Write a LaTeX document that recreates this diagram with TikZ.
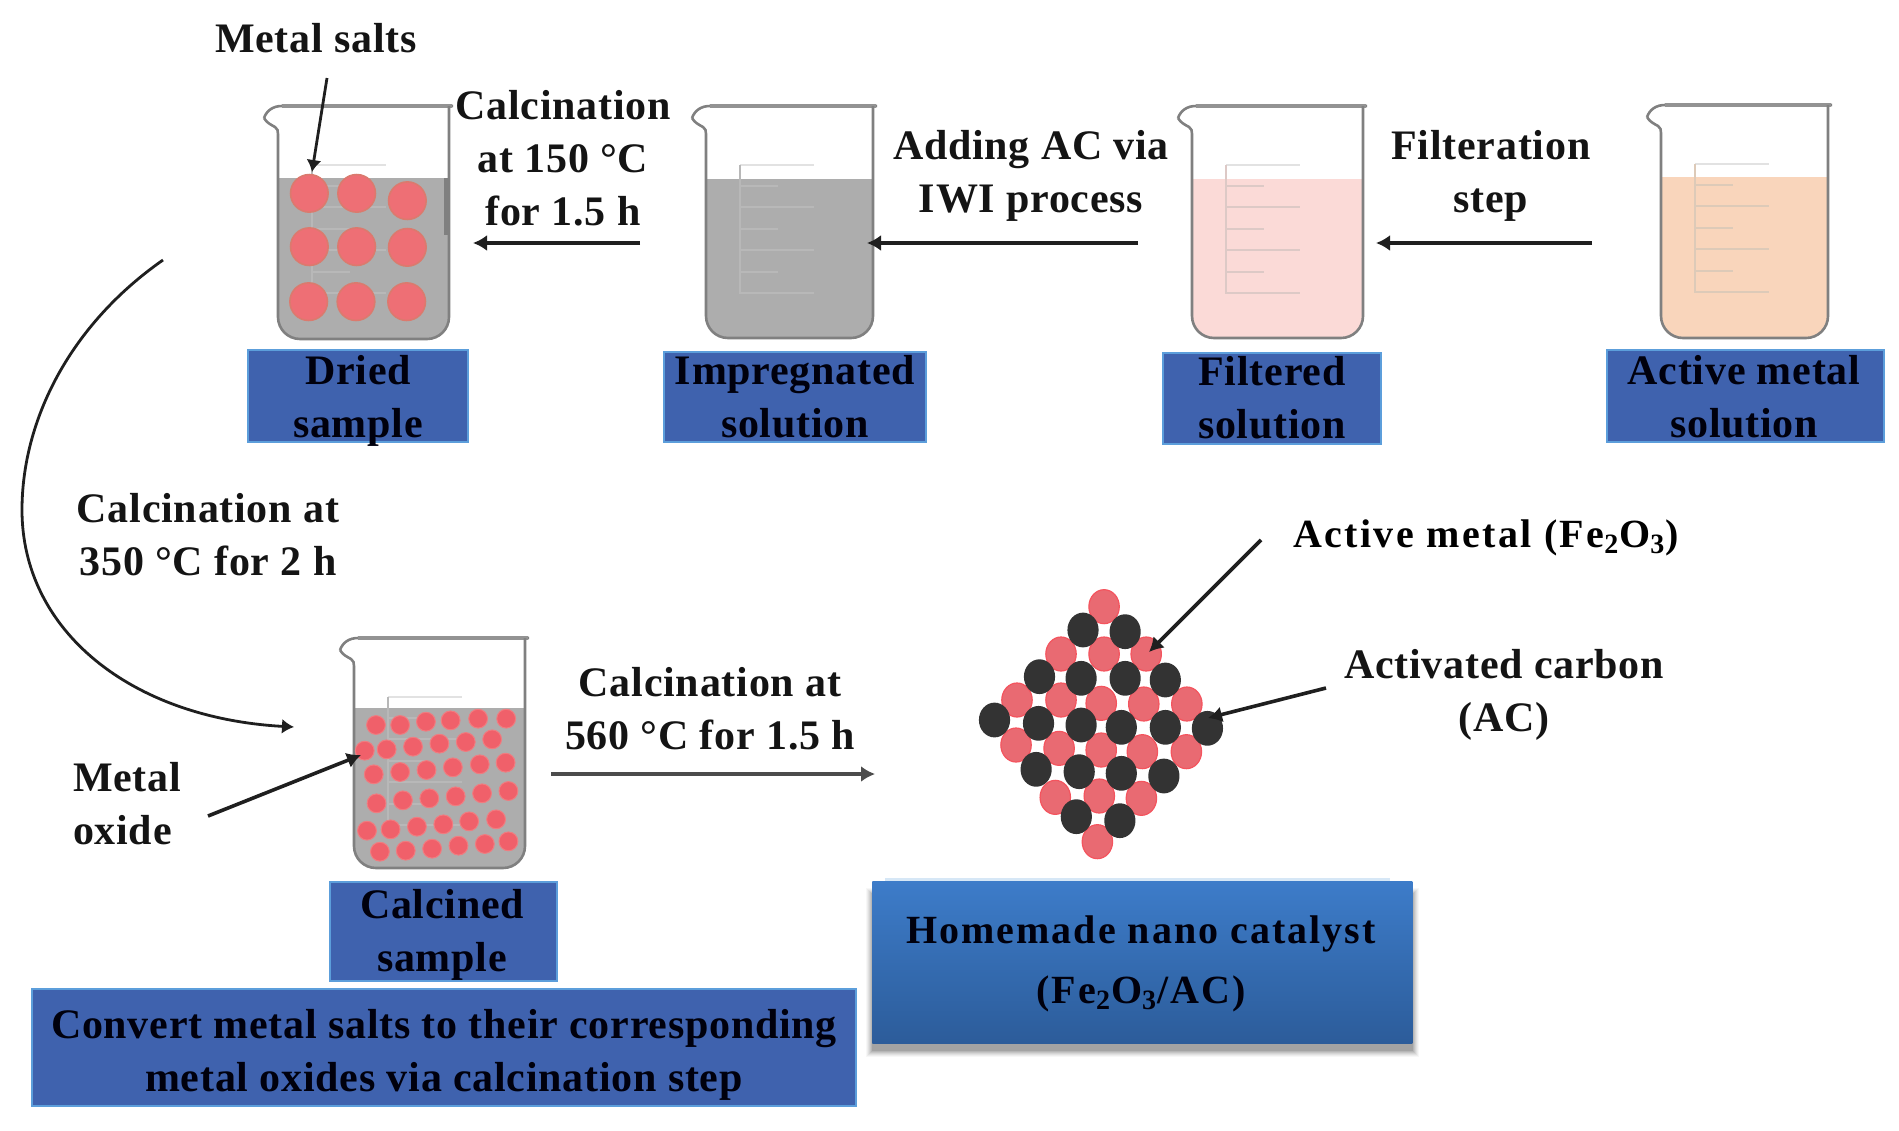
\documentclass[tikz,border=0pt]{standalone}
\usepackage{fontspec}
\setmainfont{Liberation Serif}
\usetikzlibrary{arrows.meta}
\definecolor{boxblue}{HTML}{3F62AE}
\definecolor{boxedge}{HTML}{5C9EDB}
\definecolor{hometop}{HTML}{3D7CC9}
\definecolor{homebot}{HTML}{2C5C9A}
\definecolor{salt}{HTML}{EE6F75}
\definecolor{saltedge}{HTML}{DB7A6E}
\definecolor{oxide}{HTML}{F0606A}
\definecolor{oxideedge}{HTML}{F07C80}
\definecolor{liquid}{HTML}{ADADAD}
\definecolor{pinkliq}{HTML}{FBDAD7}
\definecolor{orangeliq}{HTML}{F9D5BB}
\definecolor{glass}{HTML}{808080}
\definecolor{coal}{HTML}{333333}
\definecolor{redball}{HTML}{E96A72}
\definecolor{redrim}{HTML}{F4545E}
\definecolor{marktop}{HTML}{E2E2E2}
\definecolor{markgray}{HTML}{B8B8B8}
\definecolor{markpink}{HTML}{DDC9C6}
\definecolor{markorange}{HTML}{DDCAB8}
\tikzset{
  txt/.style={font=\bfseries\fontsize{21}{26.5}\addfontfeature{LetterSpace=1.8}\selectfont,align=center,text=black!92,inner sep=0pt},
  lab/.style={txt,text=black!95!blue},
  panel/.style={draw=boxedge,line width=1.2pt,fill=boxblue},
  arr/.style={line width=1.8pt,draw=black!88,-{Latex[length=7pt,width=8pt]}},
  thin arr/.style={line width=1.4pt,draw=black!88,-{Latex[length=6pt,width=7.5pt]}},
  gradmark/.style={line width=1.2pt}
}
% left right top bottom water liquid mark
\newcommand{\mybeaker}[7]{%
  \fill[#6] (#1,#5) -- (#2,#5) -- (#2,#4-22) to[out=-90,in=0] (#2-22,#4) -- (#1+22,#4) to[out=180,in=-90] (#1,#4-22) -- cycle;
  \draw[marktop,gradmark] (#1+34,#3+59) -- (#1+108,#3+59);
  \draw[#7,gradmark] (#1+34,#3+59) -- (#1+34,#3+187) -- (#1+108,#3+187);
  \foreach \d/\l in {80/38,101/74,123/38,144/74,166/38}{
    \draw[#7,gradmark] (#1+34,#3+\d) -- (#1+34+\l,#3+\d);}
  \draw[glass,line width=1.3pt] (#1-14,#3+12) to[out=70,in=180] (#1+4,#3) -- (#2+4,#3);
  \draw[glass!85!white,line width=2.4pt,line join=round] (#1+4,#3) -- (#2+3,#3);
  \draw[glass,line width=1.3pt] (#1-14,#3+12) to[out=-60,in=150] (#1-3,#3+21) to[out=-30,in=90] (#1,#3+28)
    -- (#1,#4-22) to[out=-90,in=180] (#1+22,#4) -- (#2-22,#4) to[out=0,in=-90] (#2,#4-22) -- (#2,#3);
}
\begin{document}
\begin{tikzpicture}[x=0.5pt,y=-0.5pt]
\useasboundingbox (0,0) rectangle (1899,1130);

% beakers
\mybeaker{278}{449}{106}{339}{178}{liquid}{markgray}
\mybeaker{706}{873}{106}{338}{179}{liquid}{markgray}
\mybeaker{1192}{1363}{106}{338}{179}{pinkliq}{markpink}
\mybeaker{1661}{1828}{105}{338}{177}{orangeliq}{markorange}
\mybeaker{354}{525}{638}{868}{708}{liquid}{markgray}
\draw[glass,line width=2.5pt] (446,178) -- (446,235);

% dried-sample salt particles
\foreach \X/\Y in {328/580,470/580,622/602,328/740,470/740,622/742,326/905,468/905,620/905}
  \draw[fill=salt,draw=saltedge,line width=0.8pt] ({200+\X/3},{\Y/3}) circle[radius=9.4pt];

% calcined-sample oxide particles
\foreach \X/\Y in {670/315,713/315,759/305,803/301,852/296,902/296,
  650/392,689/388,736/380,783/371,830/366,877/358,
  666/463,713/456,760/450,807/442,855/433,901/428,
  671/550,718/541,765/535,812/529,859/520,906/513,
  654/632,696/628,743/620,790/613,836/604,884/598,
  677/695,723/692,770/686,817/677,864/672,906/664}
  \draw[fill=oxide,draw=oxideedge,line width=0.5pt] ({\X/1.782},{620+\Y/3}) circle[radius=4.7pt];

% catalyst lattice
\foreach \X/\Y in {322/320,232/462,322/462,410/462,140/600,232/600,316/610,405/612,495/612,
  138/735,228/745,316/750,402/755,494/755,220/892,312/888,400/895,308/1025}
  \draw[fill=redball,draw=redrim,line width=0.6pt] ({950+\X/2.09},{500+\Y/3}) ellipse[x radius=7.6pt,y radius=8.5pt];
\foreach \X/\Y in {278/390,366/395,187/530,274/535,366/535,450/540,93/660,185/670,274/675,358/682,450/682,538/685,
  180/808,270/815,358/820,447/828,264/950,355/962}
  \fill[coal] ({950+\X/2.09},{500+\Y/3}) ellipse[x radius=7.8pt,y radius=8.7pt];

% panels
\node[panel,minimum width=110pt,minimum height=46pt,anchor=north west,inner sep=0pt] (pDried) at (247,349) {};
\node[panel,minimum width=131pt,minimum height=45pt,anchor=north west,inner sep=0pt] (pImp) at (663,351) {};
\node[panel,minimum width=109pt,minimum height=45.5pt,anchor=north west,inner sep=0pt] (pFil) at (1162,352) {};
\node[panel,minimum width=138.5pt,minimum height=46pt,anchor=north west,inner sep=0pt] (pAct) at (1606,349) {};
\node[panel,minimum width=113.5pt,minimum height=49.5pt,anchor=north west,inner sep=0pt] (pCal) at (329,881) {};
\node[panel,minimum width=412pt,minimum height=58.5pt,anchor=north west,inner sep=0pt] (pConv) at (31,988) {};
\foreach \o/\s in {0.03/7,0.04/6,0.05/5,0.06/4,0.07/3,0.08/2,0.10/1}
  \fill[black,opacity=\o] (873-\s,895-\s) rectangle (1412+\s,1044+\s+6);
\fill[boxedge!25!white] (885,878) rectangle (1390,882);
\node[anchor=north west,inner sep=0pt,minimum width=270pt,minimum height=81pt,top color=hometop,bottom color=homebot,draw=none] (pHome) at (872,881) {};

% panel texts
\node[lab] (tDried) at (358,401) {Dried\\sample};
\node[lab] (tImp) at (795,397) {Impregnated\\solution};
\node[lab] (tFil) at (1272,398) {Filtered\\solution};
\node[lab] (tAct) at (1744,397) {Active metal\\solution};
\node[lab] (tCal) at (442,935) {Calcined\\sample};
\node[lab] (tConv) at (444,1055) {Convert metal salts to their corresponding\\metal oxides via calcination step};
\node[lab,font=\bfseries\fontsize{20}{30}\addfontfeature{LetterSpace=5}\selectfont] (tHome) at (1141,964) {Homemade nano catalyst\\(Fe\textsubscript{2}O\textsubscript{3}/AC)};

% step labels
\node[txt] (tSalts) at (316,38) {Metal salts};
\node[txt] (tC150) at (563,158) {Calcination\\at 150 °C\\for 1.5 h};
\node[txt] (tAdd) at (1031,176) {Adding AC via\\IWI process};
\node[txt] (tFilt) at (1491,176) {Filteration\\step};
\node[txt] (tC350) at (208,535) {Calcination at\\350 °C for 2 h};
\node[txt,align=left] (tOx) at (127,804) {Metal\\oxide};
\node[txt] (tC560) at (710,709) {Calcination at\\560 °C for 1.5 h};
\node[txt,text=black,font=\bfseries\fontsize{20}{26}\addfontfeature{LetterSpace=6}\selectfont] (tFe) at (1486,538) {Active metal (Fe\textsubscript{2}O\textsubscript{3})};
\node[txt] (tAC) at (1504,695) {Activated carbon\\(AC)};

% connector ends
\coordinate (saltS) at (327,78);   \coordinate (saltE) at (312,172);
\coordinate (c150S) at (640,243);  \coordinate (c150E) at (473,243);
\coordinate (addS) at (1138,243);  \coordinate (addE) at (867,243);
\coordinate (filS) at (1592,243);  \coordinate (filE) at (1376,243);
\coordinate (curS) at (163,260);   \coordinate (curM) at (22,510); \coordinate (curE) at (294,727);
\coordinate (oxS) at (208,816);    \coordinate (oxE) at (361,755);
\coordinate (c560S) at (551,774);  \coordinate (c560E) at (875,774);
\coordinate (feS) at (1261,540);   \coordinate (feE) at (1149,652);
\coordinate (acS) at (1326,688);   \coordinate (acE) at (1208,718);

\draw[thin arr] (saltS) -- (saltE);
\draw[arr] (c150S) -- (c150E);
\draw[arr] (addS) -- (addE);
\draw[arr] (filS) -- (filE);
\draw[thin arr] (curS) .. controls (70,325) and (22,420) .. (curM) .. controls (22,630) and (130,718) .. (curE);
\draw[arr] (oxS) -- (oxE);
\draw[arr,draw=black!70] (c560S) -- (c560E);
\draw[arr] (feS) -- (feE);
\draw[arr] (acS) -- (acE);
\end{tikzpicture}
\end{document}
